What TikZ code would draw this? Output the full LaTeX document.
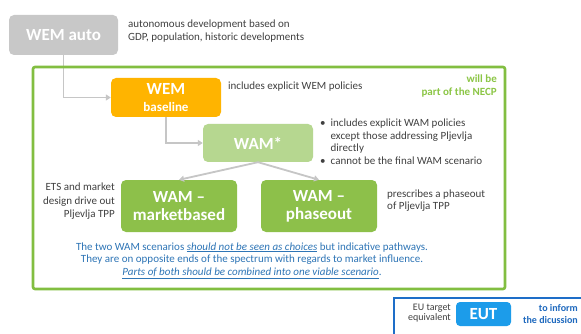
\documentclass[tikz,border=0pt]{standalone}
\usepackage{fontspec}
\setmainfont{Carlito}
\usetikzlibrary{arrows.meta}
\definecolor{autogray}{RGB}{200,200,200}
\definecolor{linegray}{RGB}{198,198,198}
\definecolor{wemorange}{RGB}{255,180,0}
\definecolor{wamlight}{RGB}{182,215,144}
\definecolor{wamgreen}{RGB}{141,192,74}
\definecolor{framegreen}{RGB}{130,190,65}
\definecolor{necpgreen}{RGB}{140,198,70}
\definecolor{txtgray}{RGB}{64,64,64}
\definecolor{noteblue}{RGB}{46,117,182}
\definecolor{eutframe}{RGB}{30,110,200}
\definecolor{eutblue}{RGB}{28,156,234}
\definecolor{informblue}{RGB}{30,105,190}
\begin{document}
\begin{tikzpicture}[x=1pt,y=-1pt,
  box/.style={rounded corners=5pt, text=white, font=\bfseries\fontsize{17}{18}\selectfont, align=center, inner sep=0pt},
  note/.style={inner sep=0pt, text=txtgray, font=\fontsize{11}{12.5}\selectfont},
  conn/.style={draw=linegray, line width=1.8pt, -{Triangle[length=5pt,width=6pt]}}
]
\useasboundingbox (0,0) rectangle (581,334);
\fill[white] (0,0) rectangle (581,334);
\begin{scope}
\clip (0,0) rectangle (581,334);

% boxes
\node[box, fill=autogray, minimum width=109pt, minimum height=40pt] (auto) at (63.5,35) {WEM auto};
\node[box, fill=wemorange, minimum width=110pt, minimum height=39pt] (base) at (166,97.5) {WEM\\[-1pt]{\fontsize{13}{14}\selectfont baseline}};
\node[box, fill=wamlight, minimum width=110pt, minimum height=38pt] (wam) at (258,143) {WAM*};
\node[box, fill=wamgreen, minimum width=116pt, minimum height=52pt] (mkt) at (179,206) {WAM --\\marketbased};
\node[box, fill=wamgreen, minimum width=116pt, minimum height=52pt] (pho) at (319,206) {WAM --\\phaseout};

% connectors
\draw[conn] (auto.south) |- (base.west);
\draw[conn] (base.south) |- (wam.west);
\draw[conn] (wam.south) -- (mkt.north);
\draw[conn] (wam.south) -- (pho.north);

% frame
\node[draw=framegreen, line width=2.6pt, rounded corners=2pt, minimum width=472pt, minimum height=222pt, inner sep=0pt] (frame) at (269,178) {};

% texts
\node[note, anchor=west, align=left] (autotxt) at (128,31) {autonomous development based on\\GDP, population, historic developments};
\node[note, anchor=west] (basetxt) at (228,87) {includes explicit WEM policies};
\node[note, anchor=east, align=right, text=necpgreen, font=\bfseries\fontsize{11}{13}\selectfont] (necp) at (497,86.5) {will be\\part of the NECP};
\node[note, anchor=west, font=\fontsize{11}{12.7}\selectfont] (wamtxt) at (320,143) {\begin{tabular}{@{}l@{\hspace{5pt}}l@{}}\textbullet & includes explicit WAM policies\\ & except those addressing Pljevlja\\ & directly\\ \textbullet & cannot be the final WAM scenario\end{tabular}};
\node[note, anchor=east, align=right, font=\fontsize{11}{13.5}\selectfont] (mkttxt) at (115,201.5) {ETS and market\\design drive out\\Pljevlja TPP};
\node[note, anchor=west, align=left, font=\fontsize{11}{12}\selectfont] (photxt) at (387,201) {prescribes a phaseout\\of Pljevlja TPP};
\node[note, align=center, text=noteblue] (msg) at (252,260.5) {The two WAM scenarios \underline{\textit{should not be seen as choices}} but indicative pathways.\\They are on opposite ends of the spectrum with regards to market influence.\\\underline{\textit{Parts of both should be combined into one viable scenario}}.};

% EUT panel
\node[draw=eutframe, line width=2.2pt, minimum width=200pt, minimum height=50pt, inner sep=0pt, anchor=north west] (eutpanel) at (393,297) {};
\node[note, anchor=east, align=right, font=\fontsize{10}{10.5}\selectfont] (eutl) at (451,313) {EU target\\equivalent};
\node[box, fill=eutblue, rounded corners=4pt, minimum width=55pt, minimum height=24pt] (eut) at (483.5,314) {EUT};
\node[note, anchor=east, align=right, text=informblue, font=\bfseries\fontsize{10}{12}\selectfont] (inform) at (578,314) {to inform\\the dicussion};
\end{scope}
\end{tikzpicture}
\end{document}
